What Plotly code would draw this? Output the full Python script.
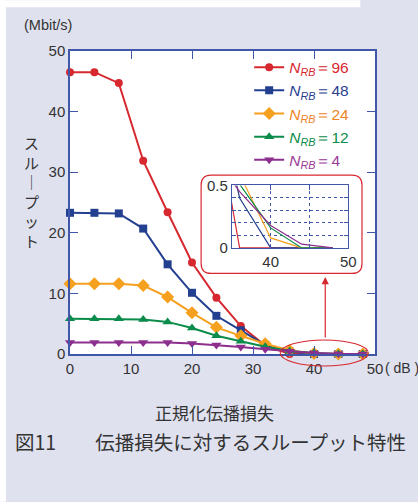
import plotly.graph_objects as go

# Normalized propagation loss (dB) and throughput (Mbit/s) per resource-block count
loss_db = [0, 4, 8, 12, 16, 20, 24, 28, 32, 36, 40, 44, 48]
tput_nrb96 = [46.5, 46.5, 44.7, 31.9, 23.4, 15.1, 9.3, 4.6, 1.4, 0.0, 0.0, 0.0, 0.0]
tput_nrb48 = [23.3, 23.3, 23.2, 20.7, 14.8, 10.1, 6.3, 3.9, 1.5, 0.4, 0.0, 0.0, 0.0]
tput_nrb24 = [11.6, 11.6, 11.6, 11.3, 9.4, 6.8, 4.4, 3.0, 1.7, 0.59, 0.08, 0.0, 0.0]
tput_nrb12 = [5.8, 5.8, 5.8, 5.7, 5.3, 4.3, 3.0, 2.1, 1.2, 0.51, 0.16, 0.0, 0.0]
tput_nrb4 = [1.9, 1.9, 1.9, 1.9, 1.9, 1.75, 1.5, 1.15, 0.8, 0.45, 0.18, 0.03, 0.0]

nrb_labels = ["96", "48", "24", "12", "4"]
main_ticks = [0, 10, 20, 30, 40, 50]
inset_x_ticks = [40, 45, 50]
inset_x_text = ["40", "", "50"]
inset_y_ticks = [0, 0.1, 0.2, 0.3, 0.4, 0.5]
inset_y_text = ["0", "", "", "", "", "0.5"]

series = [tput_nrb96, tput_nrb48, tput_nrb24, tput_nrb12, tput_nrb4]
line_colors = ["#d7282f", "#233f8f", "#f5a01e", "#0b8c4a", "#8c2f8e"]
text_colors = ["#d7282f", "#2b3f8e", "#ef8426", "#0b8c4a", "#9a3b98"]
symbols = ["circle", "square", "diamond", "triangle-up", "triangle-down"]
sizes = [8, 8, 10, 9, 9]

BG = "#dfe1ef"
AXIS = "#3f57a6"
TXT = "#333333"
LATIN = "Liberation Sans, Arial, sans-serif"
CJK = "Noto Sans CJK JP, sans-serif"

W, H = 418, 502
L, R, T, B = 70, 43.3, 50.7, 148
PW, PH = W - L - R, H - T - B


def px(xp):
    return (xp - L) / PW


def py(yp):
    return (H - B - yp) / PH


fig = go.Figure()

for vals, lab, lc, tc, sym, sz in zip(series, nrb_labels, line_colors, text_colors, symbols, sizes):
    name = (f'<span style="color:{tc}"><i>N</i><sub><i>RB</i></sub>＝{lab}</span>')
    fig.add_trace(go.Scatter(
        x=loss_db, y=vals, mode="lines+markers", name=name,
        line=dict(color=lc, width=2),
        marker=dict(symbol=sym, size=sz, color=lc),
        cliponaxis=False, xaxis="x", yaxis="y",
    ))

# Zoomed view of the low-throughput tail
for vals, lc in zip(series, line_colors):
    fig.add_trace(go.Scatter(
        x=loss_db, y=vals, mode="lines", showlegend=False,
        line=dict(color=lc, width=1.2), xaxis="x2", yaxis="y2",
    ))

axis_common = dict(showline=True, linecolor=AXIS, linewidth=1.5, mirror="ticks",
                   ticks="inside", tickcolor=AXIS, zeroline=False, showgrid=False,
                   tickfont=dict(family=LATIN, size=15, color=TXT))

fig.update_layout(
    width=W, height=H, autosize=False,
    margin=dict(l=L, r=R, t=T, b=B),
    paper_bgcolor=BG, plot_bgcolor="white",
    xaxis=dict(range=[0, 50], tickvals=main_ticks, ticklen=8, domain=[0, 1], anchor="y",
               **axis_common),
    yaxis=dict(range=[0, 50], tickvals=main_ticks, ticklen=8, domain=[0, 1], anchor="x",
               **axis_common),
    xaxis2=dict(range=[35, 50], tickvals=inset_x_ticks, ticktext=inset_x_text,
                domain=[px(231.7), px(348)], anchor="y2",
                showline=True, linecolor=AXIS, linewidth=1.2, mirror="ticks",
                ticks="inside", tickcolor=AXIS, ticklen=4, zeroline=False,
                showgrid=True, gridcolor=AXIS, gridwidth=1, griddash="dot",
                tickfont=dict(family=LATIN, size=15, color=TXT)),
    yaxis2=dict(range=[0, 0.5], tickvals=inset_y_ticks, ticktext=inset_y_text,
                domain=[py(247.8), py(185.3)], anchor="x2",
                showline=True, linecolor=AXIS, linewidth=1.2, mirror="ticks",
                ticks="inside", tickcolor=AXIS, ticklen=4, zeroline=False,
                showgrid=True, gridcolor=AXIS, gridwidth=1, griddash="dot",
                tickfont=dict(family=LATIN, size=15, color=TXT)),
    legend=dict(x=px(249), y=py(50.3), xanchor="left", yanchor="top",
                bgcolor="rgba(0,0,0,0)", font=dict(family=LATIN, size=15.5),
                itemwidth=30, tracegroupgap=0),
    showlegend=True,
)

# Rounded frame behind the zoomed view
x0, x1, y0, y1 = px(201), px(361.7), py(273.3), py(175)
rx, ry = 10 / PW, 10 / PH
frame = (f"M{x0 + rx},{y0} L{x1 - rx},{y0} Q{x1},{y0} {x1},{y0 + ry} "
         f"L{x1},{y1 - ry} Q{x1},{y1} {x1 - rx},{y1} L{x0 + rx},{y1} "
         f"Q{x0},{y1} {x0},{y1 - ry} L{x0},{y0 + ry} Q{x0},{y0} {x0 + rx},{y0} Z")
fig.add_shape(type="path", path=frame, xref="paper", yref="paper", layer="below",
              fillcolor="white", line=dict(color="#d7282f", width=1.2))

# Ellipse marking the magnified region
fig.add_shape(type="circle", xref="paper", yref="paper", layer="above",
              x0=px(280), x1=px(368), y0=py(366), y1=py(340),
              line=dict(color="#d7282f", width=1.1))

# White page margins on the left and top
fig.add_shape(type="rect", xref="paper", yref="paper", layer="below",
              x0=px(0), x1=px(6), y0=py(502), y1=py(0), fillcolor="white", line_width=0)
fig.add_shape(type="rect", xref="paper", yref="paper", layer="below",
              x0=px(0), x1=px(360), y0=py(7), y1=py(0), fillcolor="white", line_width=0)


def label(xp, yp, text, size, family, xanchor="center"):
    return dict(x=px(xp), y=py(yp), xref="paper", yref="paper", text=text,
                xanchor=xanchor, yanchor="middle", showarrow=False,
                font=dict(family=family, size=size, color=TXT))


ann = [
    dict(x=px(325), y=py(277), xref="paper", yref="paper", text="",
         showarrow=True, ax=0, ay=62, arrowhead=2, arrowsize=1.2,
         arrowwidth=1.2, arrowcolor="#d7282f", standoff=0),
    label(48, 25, "(Mbit/s)", 14.5, LATIN),
    label(383, 368, "( dB )", 14, LATIN, xanchor="left"),
    label(31.5, 191.5, "ス<br>ル<br>│<br>プ<br>ッ<br>ト", 15, CJK),
    label(214, 413, "正規化伝播損失", 17, CJK),
    label(13, 441.7, "図11　　伝播損失に対するスループット特性", 19.5, CJK, xanchor="left"),
]
fig.update_layout(annotations=ann)

fig.write_html("out.html")
